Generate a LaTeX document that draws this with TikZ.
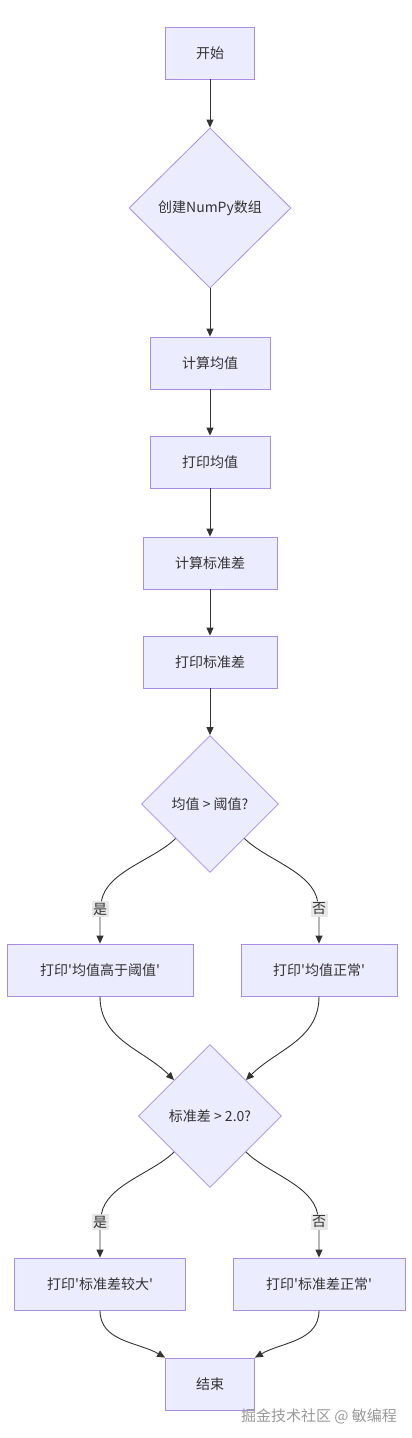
\documentclass[tikz,border=0pt]{standalone}
\usepackage{fontspec}
\setmainfont{Noto Sans CJK SC}[Ligatures=TeXOff]
\usetikzlibrary{arrows.meta, positioning, shapes.geometric}
\definecolor{nodefill}{HTML}{ECECFF}
\definecolor{nodeline}{HTML}{9370DB}
\definecolor{edgeline}{HTML}{333333}
\definecolor{lblfill}{HTML}{E8E8E8}

\begin{document}
\begin{tikzpicture}[
    x=1pt, y=1pt,
    >={Triangle[length=8pt, width=7pt]},
    font=\fontsize{14}{16}\selectfont,
    process/.style={draw=nodeline!80, fill=nodefill, rectangle,
        minimum height=52pt, line width=0.8pt, text=edgeline},
    decision/.style={draw=nodeline!80, fill=nodefill, diamond, aspect=1,
        inner sep=0pt, line width=0.8pt, text=edgeline},
    arrow/.style={->, draw=edgeline, line width=0.9pt},
    edgelbl/.style={fill=lblfill, inner sep=1.5pt, text=edgeline},
    watermark/.style={text=black!40, font=\fontsize{15}{17}\selectfont},
]
\useasboundingbox (0,0) rectangle (412,-1438);

% === Start ===
\node[process, minimum width=89pt] (start) at (210, -53) {开始};

% === Create array ===
\node[decision, minimum width=162pt, minimum height=160pt] (create) at (210, -208)
    {创建NumPy数组};
\draw[arrow] (start) -- (create);

% === Mean ===
\node[process, minimum width=120pt] (mean) at (210, -363) {计算均值};
\draw[arrow] (create) -- (mean);
\node[process, minimum width=120pt] (pmean) at (210, -462) {打印均值};
\draw[arrow] (mean) -- (pmean);

% === Standard deviation ===
\node[process, minimum width=134pt] (std) at (210, -563) {计算标准差};
\draw[arrow] (pmean) -- (std);
\node[process, minimum width=134pt] (pstd) at (210, -662) {打印标准差};
\draw[arrow] (std) -- (pstd);

% === Decision 1: mean above threshold? ===
\node[decision, minimum width=137pt, minimum height=137pt] (dmean) at (210, -804)
    {均值 > 阈值?};
\draw[arrow] (pstd) -- (dmean);

\node[process, minimum width=186pt] (hmean) at (100, -970) {打印'均值高于阈值'};
\node[process, minimum width=156pt] (nmean) at (319, -970) {打印'均值正常'};
\node[edgelbl] (yes1) at (100, -909) {是};
\node[edgelbl] (no1) at (319, -909) {否};
\draw[arrow] (dmean.south west) to[out=-135, in=80, looseness=0.8] (yes1) -- (hmean);
\draw[arrow] (dmean.south east) to[out=-45, in=100, looseness=0.8] (no1) -- (nmean);

% === Decision 2: std above 2.0? ===
\node[decision, minimum width=143pt, minimum height=143pt] (dstd) at (210, -1116)
    {标准差 > 2.0?};
\draw[arrow] (hmean.south) to[out=-90, in=135] (dstd.north west);
\draw[arrow] (nmean.south) to[out=-90, in=45] (dstd.north east);

\node[process, minimum width=171pt] (hstd) at (100, -1284) {打印'标准差较大'};
\node[process, minimum width=172pt] (nstd) at (319, -1284) {打印'标准差正常'};
\node[edgelbl] (yes2) at (100, -1222) {是};
\node[edgelbl] (no2) at (319, -1222) {否};
\draw[arrow] (dstd.south west) to[out=-135, in=80, looseness=0.8] (yes2) -- (hstd);
\draw[arrow] (dstd.south east) to[out=-45, in=100, looseness=0.8] (no2) -- (nstd);

% === End ===
\node[process, minimum width=89pt] (stop) at (210, -1384) {结束};
\draw[arrow] (hstd.south) to[out=-90, in=150] (stop.north west);
\draw[arrow] (nstd.south) to[out=-90, in=30] (stop.north east);

\node[watermark] (mark) at (319, -1416) {掘金技术社区 @ 敏编程};

\end{tikzpicture}
\end{document}
